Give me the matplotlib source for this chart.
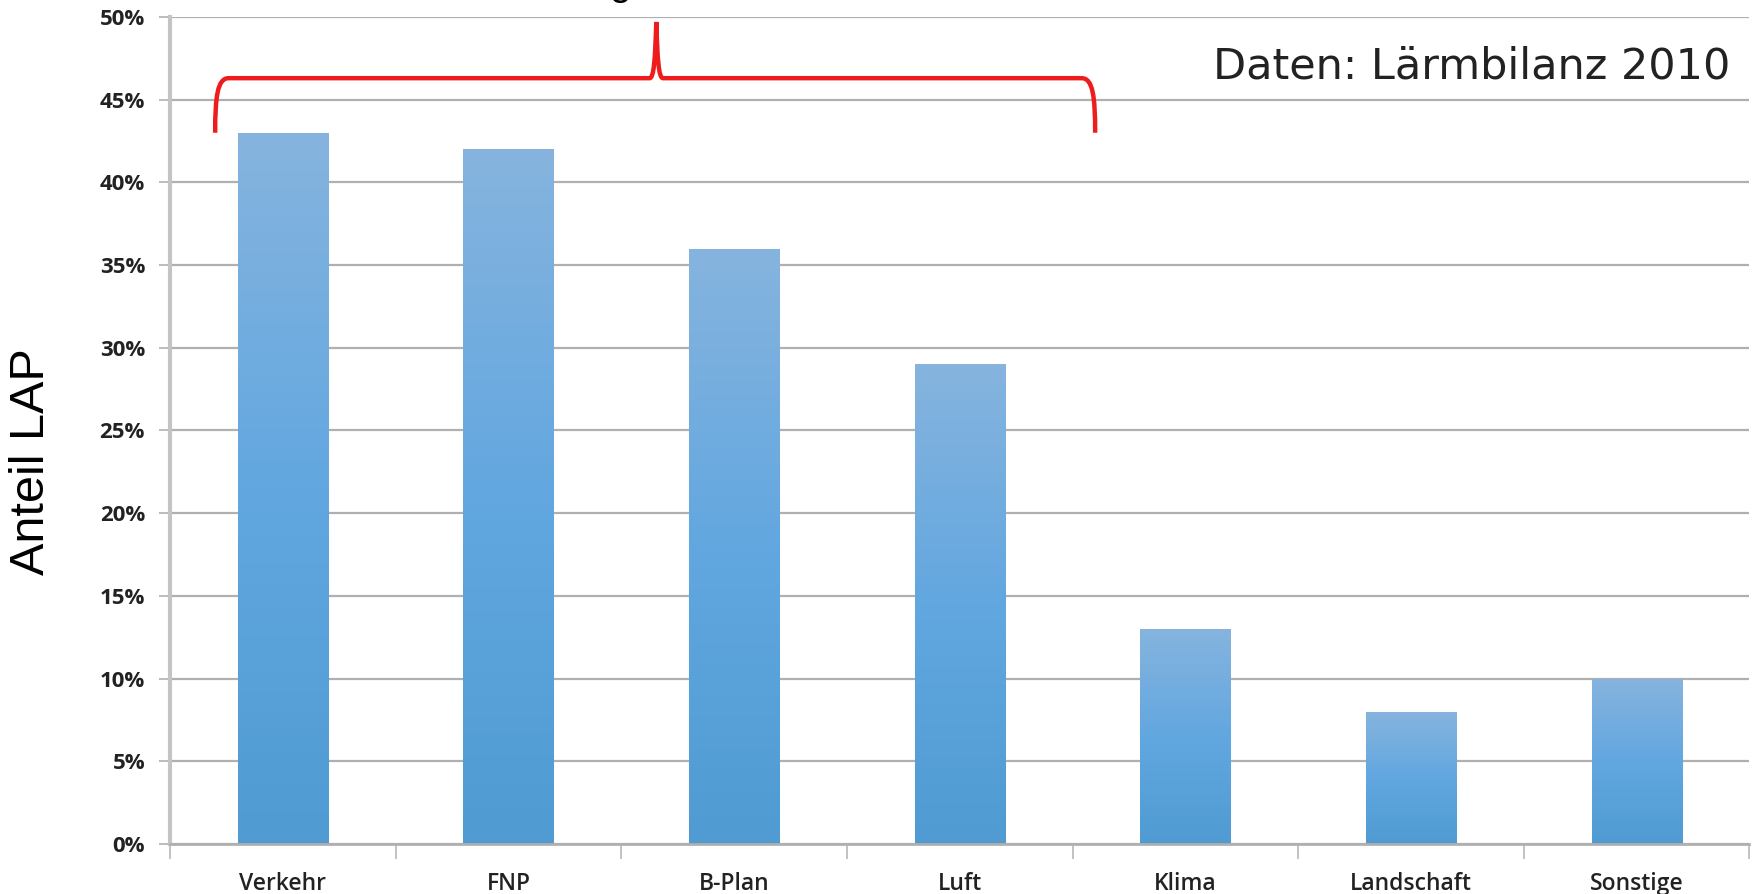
"bar chart: share of noise action plans (LAP) per planning field"
import numpy as np
import matplotlib
matplotlib.use("Agg")
from matplotlib import pyplot as plt
from matplotlib.path import Path
from matplotlib.patches import PathPatch
from matplotlib.colors import LinearSegmentedColormap

categories = ["Verkehr", "FNP", "B-Plan", "Luft", "Klima", "Landschaft", "Sonstige"]
anteil = [43, 42, 36, 29, 13, 8, 10]
yticks = [0, 5, 10, 15, 20, 25, 30, 35, 40, 45, 50]

fig = plt.figure(figsize=(17.53, 8.94), dpi=100)
ax = fig.add_axes([0.097, 0.056, 0.901, 0.925])

x = np.arange(len(categories))
bars = ax.bar(x, anteil, width=0.4, color="#6aa9de", zorder=2)

# vertical gradient inside every bar
grad = LinearSegmentedColormap.from_list("bar", ["#4f9bd2", "#62a7e0", "#86b4de"])
for b in bars:
    b.set_facecolor("none")
    x0, y0 = b.get_x(), b.get_y()
    w, h = b.get_width(), b.get_height()
    img = ax.imshow(np.linspace(0, 1, 256).reshape(-1, 1), cmap=grad, origin="lower",
                    extent=[x0, x0 + w, y0, y0 + h], aspect="auto", zorder=2)
    img.set_clip_path(b)

ax.set_xlim(-0.5, len(categories) - 0.5)
ax.set_ylim(0, 50)
ax.set_yticks(yticks)
ax.set_yticklabels([f"{v}%" for v in yticks], fontsize=16, fontweight="bold",
                   family="Open Sans", color="#222222")
ax.yaxis.grid(True, color="#b0b0b0", linewidth=1.6, zorder=0)
ax.set_axisbelow(True)

# category labels centred, tick marks on the boundaries
ax.set_xticks(x)
ax.set_xticklabels(categories, fontsize=16.5, fontweight="semibold",
                   family="Open Sans", color="#222222")
ax.tick_params(axis="x", length=0, pad=20)
ax.set_xticks(np.arange(-0.5, len(categories)), minor=True)
ax.tick_params(axis="x", which="minor", length=11, width=1.2, color="#b8b8b8")
ax.tick_params(axis="y", length=8, width=1.2, color="#b0b0b0", pad=10)

for s in ["top", "right"]:
    ax.spines[s].set_visible(False)
ax.spines["left"].set_color("#c4c4c4")
ax.spines["left"].set_linewidth(3)
ax.spines["bottom"].set_color("#b0b0b0")
ax.spines["bottom"].set_linewidth(2)

ax.set_ylabel("Anteil LAP", fontsize=35, family="Liberation Sans", va="center")
ax.yaxis.set_label_coords(-0.088, 0.462)

ax.text(0.988, 0.926, "Daten: Lärmbilanz 2010", transform=ax.transAxes,
        ha="right", va="baseline", fontsize=31, family="DejaVu Sans", color="#222222",
        zorder=5)

# red curly brace over the first four fields
xl, xr, xm = -0.30, 3.60, 1.655
yb, yf, yt = 43.0, 46.3, 49.7
verts = [(xl, yb), (xl, 45.2), (xl + 0.01, yf), (xl + 0.06, yf),
         (xm - 0.03, yf),
         (xm - 0.01, yf), (xm - 0.005, 47.5), (xm, yt),
         (xm + 0.005, 47.5), (xm + 0.01, yf), (xm + 0.03, yf),
         (xr - 0.06, yf),
         (xr - 0.01, yf), (xr, 45.2), (xr, yb)]
codes = [Path.MOVETO, Path.CURVE4, Path.CURVE4, Path.CURVE4,
         Path.LINETO,
         Path.CURVE4, Path.CURVE4, Path.CURVE4,
         Path.CURVE4, Path.CURVE4, Path.CURVE4,
         Path.LINETO,
         Path.CURVE4, Path.CURVE4, Path.CURVE4]
ax.add_patch(PathPatch(Path(verts, codes), facecolor="none", edgecolor="#ee1c1c",
                       linewidth=3.2, zorder=4, clip_on=False))

# heading above the chart, mostly outside the canvas
fig.text(0.354, 1.006, "g", ha="center", va="baseline", fontsize=28,
         family="Liberation Sans")

fig.savefig("out.png", dpi=100)
